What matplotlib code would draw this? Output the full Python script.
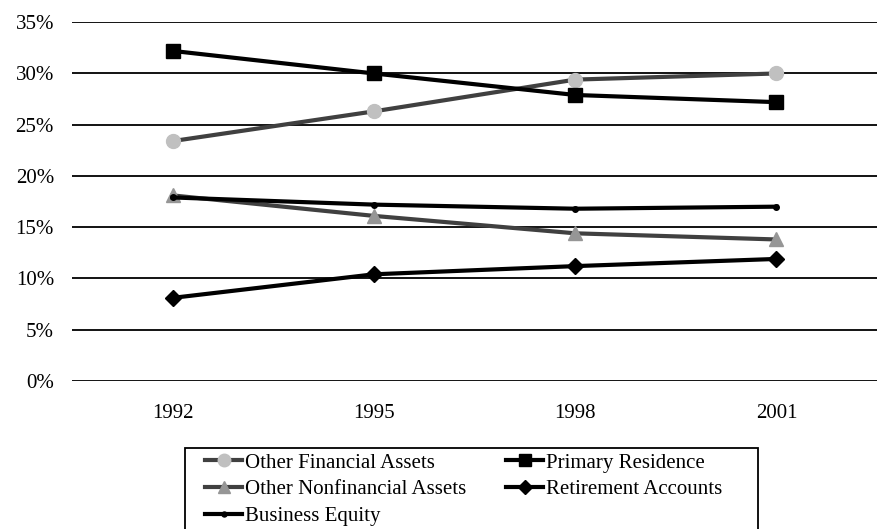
import matplotlib.pyplot as plt
from matplotlib.patches import Rectangle
from matplotlib.ticker import PercentFormatter

plt.rcParams['font.family'] = ['Liberation Serif', 'DejaVu Serif']

years = ['1992', '1995', '1998', '2001']
other_financial = [23.4, 26.3, 29.4, 30.0]
primary_residence = [32.2, 30.0, 27.9, 27.2]
other_nonfinancial = [18.1, 16.1, 14.4, 13.8]
retirement = [8.1, 10.4, 11.2, 11.9]
business_equity = [17.9, 17.2, 16.8, 17.0]

W, H = 878, 529
fig = plt.figure(figsize=(W / 100, H / 100), dpi=100)
ax = fig.add_axes([0.082, 0.280, 0.917, 0.678])

x = range(len(years))
h1, = ax.plot(x, other_financial, color='#404040', lw=3, marker='o', ms=10,
              mfc='#c0c0c0', mec='#c0c0c0', label='Other Financial Assets')
h2, = ax.plot(x, primary_residence, color='black', lw=3, marker='s', ms=10,
              label='Primary Residence')
h3, = ax.plot(x, other_nonfinancial, color='#404040', lw=3, marker='^', ms=10,
              mfc='#969696', mec='#969696', label='Other Nonfinancial Assets')
h4, = ax.plot(x, retirement, color='black', lw=3, marker='D', ms=8,
              label='Retirement Accounts')
h5, = ax.plot(x, business_equity, color='black', lw=3, marker='o', ms=4,
              label='Business Equity')

ax.set_xlim(-0.5, 3.5)
ax.set_ylim(0, 35)
ax.set_yticks(range(0, 36, 5))
ax.yaxis.set_major_formatter(PercentFormatter(decimals=0))
ax.set_xticks(list(x))
ax.set_xticklabels(years)
ax.tick_params(length=0, labelsize=15, pad=13)
ax.tick_params(axis='x', pad=17)
ax.grid(axis='y', color='black', lw=1.3)
ax.set_axisbelow(True)
for s in ax.spines.values():
    s.set_visible(False)

# column-wise fill: left column first, then right
leg = fig.legend(handles=[h1, h3, h5, h2, h4], ncol=2, loc='upper left',
                 bbox_to_anchor=(205 / W, 1 - 453 / H), frameon=False,
                 prop={'size': 15}, handlelength=1.78, handletextpad=0.15,
                 columnspacing=1.9, labelspacing=0.34, borderpad=0,
                 borderaxespad=0, markerscale=0.9)

# legend box, its bottom edge runs off the figure
fig.patches.append(Rectangle((185 / W, -0.05), (758 - 185) / W,
                             1 - 448 / H + 0.05, transform=fig.transFigure,
                             fill=False, edgecolor='black', lw=1.3))

plt.savefig('out.png', dpi=100)
